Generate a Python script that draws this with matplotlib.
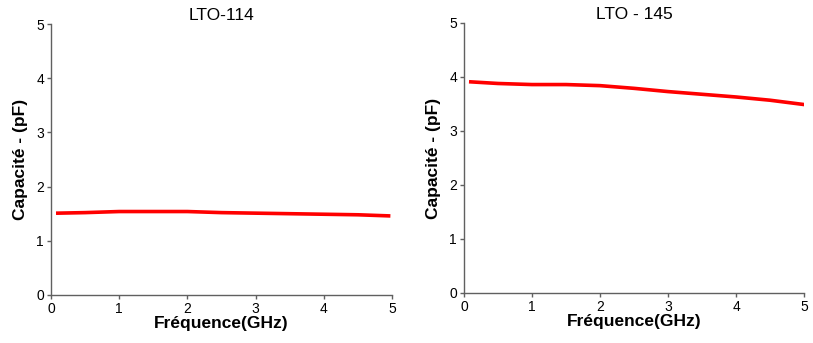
import matplotlib
matplotlib.use("Agg")
import matplotlib.pyplot as plt

plt.rcParams['font.family'] = ['Liberation Sans', 'DejaVu Sans']

freq_114 = [0.1, 0.5, 1.0, 1.5, 2.0, 2.5, 3.0, 3.5, 4.0, 4.5, 4.95]
cap_114 = [1.51, 1.52, 1.54, 1.54, 1.54, 1.52, 1.51, 1.50, 1.49, 1.48, 1.46]

freq_145 = [0.1, 0.5, 1.0, 1.5, 2.0, 2.5, 3.0, 3.5, 4.0, 4.5, 5.0]
cap_145 = [3.91, 3.88, 3.86, 3.86, 3.84, 3.79, 3.73, 3.68, 3.63, 3.57, 3.49]

titres = ["LTO-114", "LTO - 145"]
xticks = [0, 1, 2, 3, 4, 5]
yticks = [0, 1, 2, 3, 4, 5]

fig = plt.figure(figsize=(8.13, 3.43), dpi=100)
W, H = 813, 343
positions = [(51, 24, 392, 295), (464, 23, 804, 293)]
series = [(freq_114, cap_114), (freq_145, cap_145)]

for (x0, y0, x1, y1), (f, c), titre in zip(positions, series, titres):
    ax = fig.add_axes([x0 / W, 1 - y1 / H, (x1 - x0) / W, (y1 - y0) / H])
    ax.plot(f, c, color='#ff0000', linewidth=2.6)
    ax.set_xlim(0, 5)
    ax.set_ylim(0, 5)
    ax.set_xticks(xticks)
    ax.set_yticks(yticks)
    for s in ['top', 'right']:
        ax.spines[s].set_visible(False)
    for s in ['left', 'bottom']:
        ax.spines[s].set_color('#606060')
        ax.spines[s].set_linewidth(1)
    ax.tick_params(direction='out', length=3, width=1, color='#606060',
                   labelsize=10, pad=2)
    ax.set_title(titre, fontsize=12.5, pad=3)
    ax.set_xlabel("Fréquence(GHz)", fontsize=12.5, fontweight='bold', labelpad=0)
    ax.set_ylabel("Capacité - (pF)", fontsize=12.5, fontweight='bold', labelpad=6)

fig.savefig("out.png", dpi=100)
